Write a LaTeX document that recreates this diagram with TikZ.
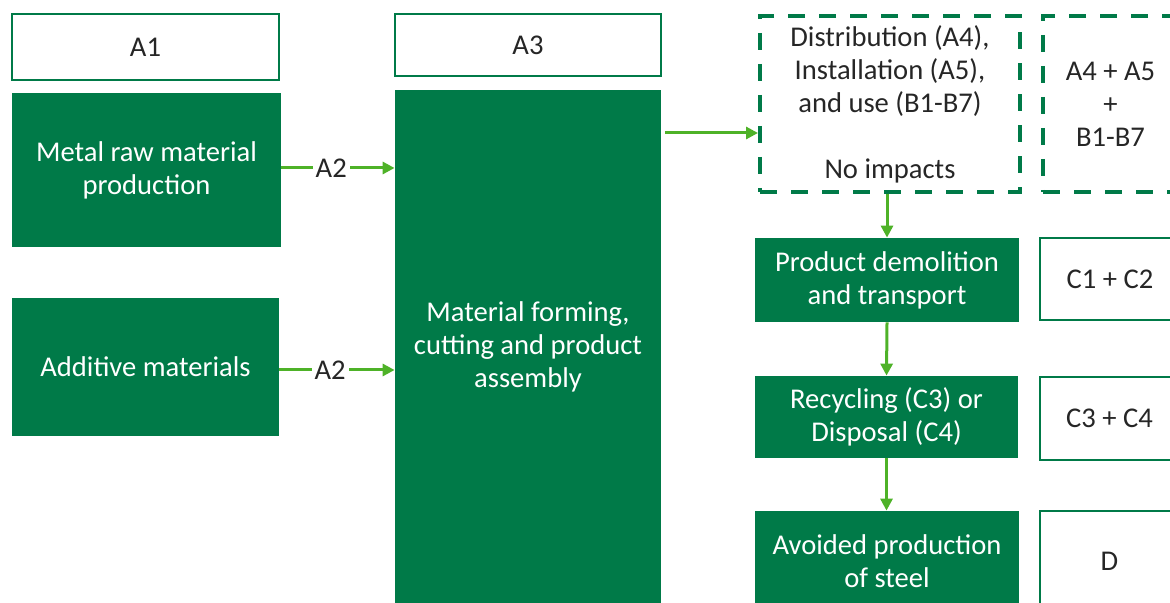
\documentclass[tikz,border=0pt]{standalone}
\usepackage{fontspec}
\setmainfont{Carlito}
\usetikzlibrary{arrows.meta}
\definecolor{boxgreen}{RGB}{0,122,72}
\definecolor{arrowgreen}{RGB}{78,178,40}
\definecolor{textgray}{RGB}{38,38,38}
\begin{document}
\begin{tikzpicture}[x=0.5pt, y=-0.5pt,
    every node/.style={font=\fontsize{14.3}{16.5}\selectfont, align=center, inner sep=0pt},
    greenbox/.style={rectangle, fill=boxgreen, text=white},
    whitebox/.style={rectangle, draw=boxgreen, line width=1pt, fill=white, text=textgray},
    dashbox/.style={rectangle, draw=boxgreen, line width=2pt, dash pattern=on 8.5pt off 7pt, text=textgray},
    flow/.style={draw=arrowgreen, line width=1.5pt, -{Triangle[length=6pt, width=6pt]}}]
    \useasboundingbox (0,0) rectangle (1170,603);

    % Stage headers
    \node[whitebox, minimum width=133.5pt, minimum height=33pt] (a1) at (145.5,47) {A1};
    \node[whitebox, minimum width=133pt, minimum height=31pt] (a3) at (528,45) {A3};

    % Production
    \node[greenbox, minimum width=134.5pt, minimum height=77pt] (metal) at (146.5,170) {Metal raw material\\production};
    \node[greenbox, minimum width=133.5pt, minimum height=69pt] (additive) at (145.5,367) {Additive materials};
    \node[greenbox, minimum width=133pt, minimum height=256.5pt] (forming) at (528,346.5) {Material forming,\\cutting and product\\assembly};

    % Use stage
    \node[dashbox, minimum width=130pt, minimum height=88pt] (use) at (890,104) {Distribution (A4),\\Installation (A5),\\and use (B1-B7)\\[16.5pt]No impacts};
    \node[dashbox, minimum width=67.5pt, minimum height=88pt] (usemod) at (1110.5,104) {A4 + A5\\+\\B1-B7};

    % End of life
    \node[greenbox, minimum width=132pt, minimum height=42pt] (demolition) at (887,280) {Product demolition\\and transport};
    \node[whitebox, minimum width=70pt, minimum height=41pt] (c12) at (1110,279) {C1 + C2};
    \node[greenbox, minimum width=131.5pt, minimum height=41pt] (recycling) at (886.5,417) {Recycling (C3) or\\Disposal (C4)};
    \node[whitebox, minimum width=70pt, minimum height=41.5pt] (c34) at (1109.5,418.5) {C3 + C4};
    \node[greenbox, minimum width=132pt, minimum height=50pt] (avoided) at (887,561) {Avoided production\\of steel};
    \node[whitebox, minimum width=70pt, minimum height=50pt] (d) at (1109.5,561) {D};

    % Arrows
    \draw[flow] (metal.east |- 0,168) -- node[pos=0.44, fill=white, inner xsep=1.5pt, text=textgray] {A2} (forming.west |- 0,168);
    \draw[flow] (additive.east |- 0,370) -- node[pos=0.44, fill=white, inner xsep=1.5pt, text=textgray] {A2} (forming.west |- 0,370);
    \draw[flow] ([xshift=2pt]forming.east |- 0,133) -- (use.west |- 0,133);
    \draw[flow] (demolition.north |- use.south) -- (demolition.north);
    \draw[flow] (demolition.south) -- (recycling.north);
    \draw[flow] (recycling.south) -- (recycling.south |- avoided.north);
\end{tikzpicture}
\end{document}
